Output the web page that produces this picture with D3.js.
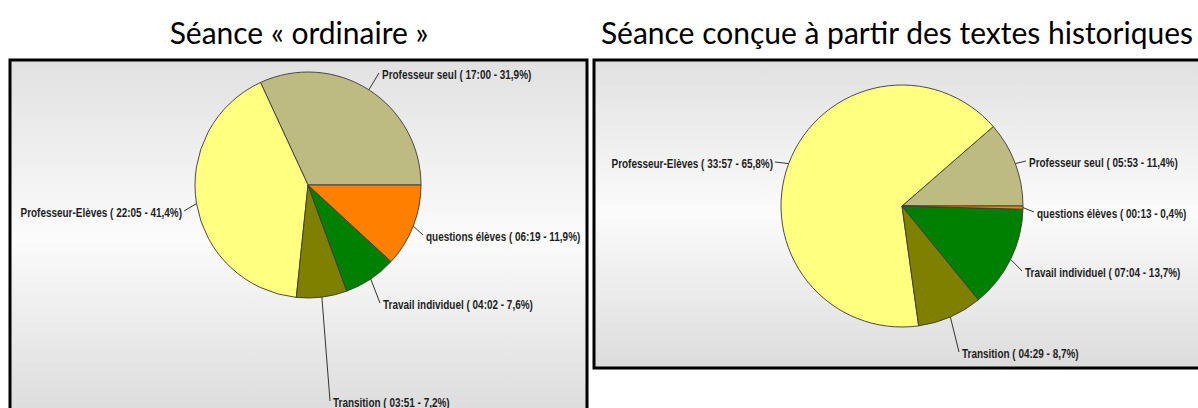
<!DOCTYPE html>
<html>
<head>
<meta charset="utf-8">
<script src="https://cdn.jsdelivr.net/npm/d3@7"></script>
<style>
  html, body { margin: 0; padding: 0; background: #ffffff; }
  svg { display: block; }
</style>
</head>
<body>
<svg id="chart" width="1198" height="408"></svg>
<script>
// ---- data -------------------------------------------------------------
const categories = ["Professeur seul", "Professeur-Elèves", "Transition", "Travail individuel", "questions élèves"];
const durationsOrdinaire = ["17:00", "22:05", "03:51", "04:02", "06:19"];
const durationsHistorique = ["05:53", "33:57", "04:29", "07:04", "00:13"];
const sessionTitles = ["Séance « ordinaire »", "Séance conçue à partir des textes historiques"];
const sliceColors = ["#bdbb82", "#ffff80", "#808000", "#008000", "#ff8000"];

// ---- layout -----------------------------------------------------------
// frame, pie centre / radius, and where each callout text sits
const panels = [
  {
    durations: durationsOrdinaire, title: sessionTitles[0], titleX: 299,
    frame: { x: 10, y: 60, w: 577, h: 356 }, cx: 308, cy: 185, r: 113,
    callouts: [
      { x: 382, y: 75,  anchor: "start" },
      { x: 182, y: 213, anchor: "end" },
      { x: 333, y: 403, anchor: "start" },
      { x: 383, y: 305, anchor: "start" },
      { x: 426, y: 237, anchor: "start" }
    ]
  },
  {
    durations: durationsHistorique, title: sessionTitles[1], titleX: 897,
    frame: { x: 594, y: 60, w: 610, h: 308 }, cx: 902, cy: 206, r: 121,
    callouts: [
      { x: 1029, y: 163, anchor: "start" },
      { x: 773,  y: 164, anchor: "end" },
      { x: 962,  y: 354, anchor: "start" },
      { x: 1025, y: 273, anchor: "start" },
      { x: 1037, y: 214, anchor: "start" }
    ]
  }
];

const toSeconds = s => { const [m, sec] = s.split(":").map(Number); return m * 60 + sec; };
const fmtPct = p => (p * 100).toFixed(1).replace(".", ",") + "%";

const svg = d3.select("#chart");
const defs = svg.append("defs");
const grad = defs.append("linearGradient")
  .attr("id", "panelBg").attr("x1", 0).attr("y1", 0).attr("x2", 0).attr("y2", 1);
grad.append("stop").attr("offset", "0%").attr("stop-color", "#e1e1e1");
grad.append("stop").attr("offset", "50%").attr("stop-color", "#fbfbfb");
grad.append("stop").attr("offset", "100%").attr("stop-color", "#dcdcdc");

const color = d3.scaleOrdinal().domain(categories).range(sliceColors);

// slices run counter-clockwise from 3 o'clock, in data order
const pie = d3.pie()
  .sort(null)
  .value(d => d.seconds)
  .startAngle(Math.PI / 2)
  .endAngle(Math.PI / 2 - 2 * Math.PI);

const labelFont = "'Liberation Sans', Arial, sans-serif";

panels.forEach(p => {
  const rows = categories.map((c, i) => ({ category: c, time: p.durations[i], seconds: toSeconds(p.durations[i]) }));
  const total = d3.sum(rows, d => d.seconds);
  const arcs = pie(rows);
  const arc = d3.arc().innerRadius(0).outerRadius(p.r);

  // title
  svg.append("text")
    .attr("x", p.titleX).attr("y", 44)
    .attr("text-anchor", "middle")
    .attr("font-family", "Lato, 'Open Sans', sans-serif")
    .attr("font-size", 30)
    .attr("fill", "#000")
    .text(p.title);

  // frame
  svg.append("rect")
    .attr("x", p.frame.x).attr("y", p.frame.y)
    .attr("width", p.frame.w).attr("height", p.frame.h)
    .attr("fill", "url(#panelBg)")
    .attr("stroke", "#000").attr("stroke-width", 3);

  const g = svg.append("g").attr("transform", `translate(${p.cx},${p.cy})`);
  g.selectAll("path.slice")
    .data(arcs)
    .join("path")
    .attr("class", "slice")
    .attr("d", arc)
    .attr("fill", d => color(d.data.category))
    .attr("stroke", "#3a3a3a")
    .attr("stroke-width", 0.9)
    .attr("stroke-linejoin", "round");

  // callouts
  arcs.forEach((d, i) => {
    const mid = (d.startAngle + d.endAngle) / 2;
    const ex = p.cx + p.r * Math.sin(mid);
    const ey = p.cy - p.r * Math.cos(mid);
    const c = p.callouts[i];
    const lx = c.anchor === "end" ? c.x + 2 : c.x - 3;
    const ly = c.y - 2;
    svg.append("line")
      .attr("x1", ex).attr("y1", ey).attr("x2", lx).attr("y2", ly)
      .attr("stroke", "#333").attr("stroke-width", 1);
    const label = `${d.data.category} ( ${d.data.time} - ${fmtPct(d.data.seconds / total)})`;
    svg.append("text")
      .attr("transform", `translate(${c.x},${c.y + 4}) scale(0.83,1)`)
      .attr("text-anchor", c.anchor)
      .attr("font-family", labelFont)
      .attr("font-weight", "bold")
      .attr("font-size", 12)
      .attr("fill", "#1e1e1e")
      .text(label);
  });
});
</script>
</body>
</html>
